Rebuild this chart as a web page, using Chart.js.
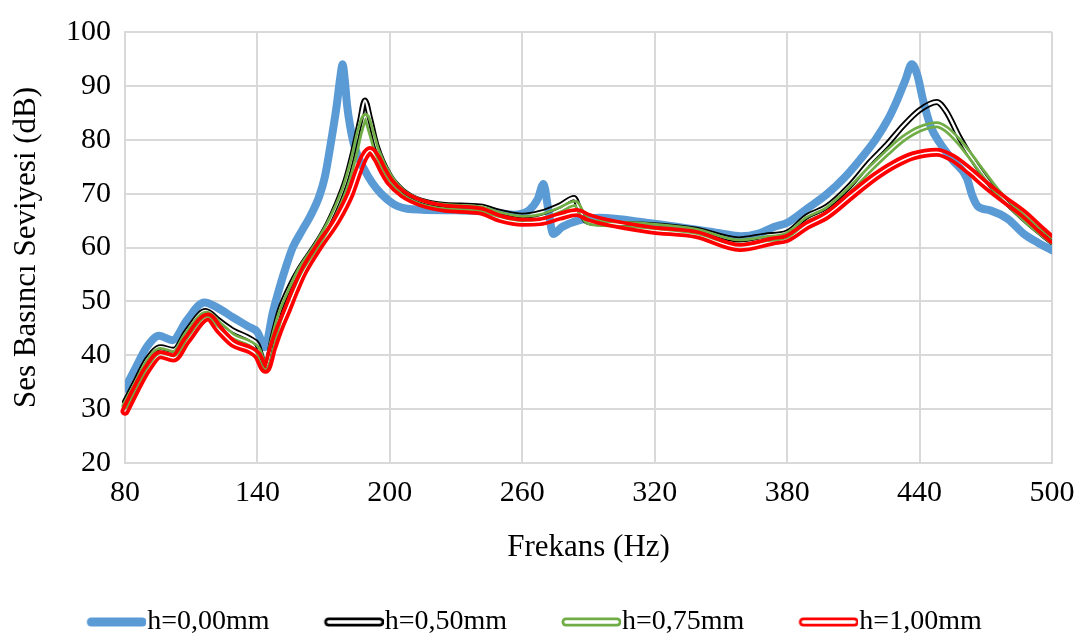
<!DOCTYPE html>
<html>
<head>
<meta charset="utf-8">
<script src="https://cdn.jsdelivr.net/npm/chart.js@4/dist/chart.umd.min.js"></script>
<style>
html,body{margin:0;padding:0;background:#fff;}
#wrap{width:1088px;height:644px;}
</style>
</head>
<body>
<div id="wrap"><canvas id="c" width="1088" height="644"></canvas></div>
<script>
// ---- data ----
const seriesNames = ['h=0,00mm', 'h=0,50mm', 'h=0,75mm', 'h=1,00mm'];
const xTickValues = [80, 140, 200, 260, 320, 380, 440, 500];
const yTickValues = [20, 30, 40, 50, 60, 70, 80, 90, 100];

const freq000 = [80,85,90,95.5,101.5,108,116,122,129,136,140,143.4,147,150,153,156,160,163.8,168,170.5,173.5,175.8,177.5,178.6,179.6,180.6,182,183.5,185.5,188,192,196,202,210,230,245,256,263,267,269.6,271.8,274,278,286,295,318,339,350,359,367,374,380,389,398,406,413,420,426,430,433.5,436.5,439,441.5,445,449,455,461.4,464,466.5,472,480,487,494,500];
const spl000  = [33.8,37.8,41.6,43.6,42.8,46.5,49.8,48.8,47,45.3,44.3,41.5,48,52.5,56.5,60,63,65.7,69.5,73,80,86,91.5,94,91,86.5,82.5,79.5,77,74.8,72,70,68,67.1,66.9,66.7,66.1,66.9,69,71.8,67,62.5,63.8,65.1,65.5,64.5,63.3,62.6,62.1,62.6,63.8,64.6,67.2,69.9,73,76.3,80,84,87.5,91,94,92,87.5,82.5,79.5,76.2,72.9,69.5,67.6,66.9,65.3,62.6,60.8,59.5];

const freq050 = [80,85,90,96,102,108,116.5,123,129,136.6,140,143.7,147,150,155,159,167,172,176,180,183.4,186.5,188.7,191,194,200,206,214,225,241,250,260,268,277,283.5,286,289,295,318,339,358,370,380,389,398,408,417.6,425,432.6,440,447.8,452,458,463,468.8,475,482,490,500];
const spl050  = [31.4,35.3,39.2,41.5,41,44.5,48.2,46.3,44.6,43.1,42,38,43.5,48.2,53,56,60.9,64.5,68.1,72.5,77.8,83.5,87.3,84,78.9,73.3,70.5,68.7,67.9,67.6,66.6,65.9,66.4,67.8,69.2,67,64.9,64.5,64.2,63.3,61.5,62.2,62.8,65.8,67.6,71.3,75.9,79,82.6,85.5,87,85.3,80.5,77,73.5,70.2,67.3,64.3,61];

const freq075 = [80,85,90,96,102,108,117,123,129,136.6,140,143.7,147,150,155,159,167,172,176,180,183.5,186.5,189,191.5,194,200,206,214,225,241,250,260,268,277,284,287,290,295,318,339,358,370,380,389,398,408,417.6,425,432.6,440,447.8,452,458,463,468.8,475,482,490,500];
const spl075  = [30.6,34.4,38.4,40.9,40.3,43.8,47.6,45.6,43.5,42.2,41.1,37.8,42.5,47,52,55.5,60.5,64,67.4,71.5,76.5,81.8,84.3,81.5,78,73,70.2,68.5,67.6,67.2,66.1,65.4,65.7,67,68.2,66.3,64.8,64.5,64,63,61,61.6,62.3,65.2,67,70.6,74.6,77.5,80.2,82,82.8,82,79.6,77,73.8,70.5,67.5,64.5,61.2];

const freq100 = [80,84.5,90,96,102,108,117.6,123,129,136.6,140,143.7,147,150,153.3,157,160.7,168,176,182,186,188.5,191,194,197,200,206,214,225,241,250,260,268,277,284.6,290,295,318,339,358.6,373.6,380,389,398,410,420,428,437,447.8,455,463,470,478,487,495,500];
const spl100  = [29.6,33.3,37.4,40.1,39.5,42.8,47.1,44.6,42.2,41,40,37.4,41.5,45,48.2,52,55.4,60.3,65.1,69.9,74.5,76.9,78,76.6,74.2,72.2,69.9,68.3,67.3,66.8,65.4,64.7,64.8,65.8,66.5,65.6,65,63.3,62.4,60,61.2,61.7,64.1,66,70,73.2,75.3,77,77.7,76.6,74.1,71.6,69,66.3,63.3,61.5];

const seriesColors = ['#5B9BD5', '#000000', '#70AD47', '#FF0000'];

// ---- helpers ----
function pts(fx, fy) { return fx.map((f, i) => ({x: f, y: fy[i]})); }

// legend icon: transparent lead-in, then the line sample right before the text
function legendIcon(color, width, gap) {
  const c = document.createElement('canvas');
  c.width = 89; c.height = 14;
  const g = c.getContext('2d');
  g.lineCap = 'round';
  g.strokeStyle = color; g.lineWidth = width;
  g.beginPath(); g.moveTo(34, 7); g.lineTo(85, 7); g.stroke();
  if (gap) {
    g.globalCompositeOperation = 'destination-out';
    g.lineWidth = gap;
    g.beginPath(); g.moveTo(34, 7); g.lineTo(85, 7); g.stroke();
  }
  return c;
}
const legendIcons = [
  legendIcon(seriesColors[0], 9, 0),
  legendIcon(seriesColors[1], 9, 3.5),
  legendIcon(seriesColors[2], 9, 3.5),
  legendIcon(seriesColors[3], 9, 3.5)
];

// Draw "double" (compound) lines: outer stroke with a transparent centre gap
const doubleLinePlugin = {
  id: 'doubleLine',
  beforeLayout(chart) {
    const lg = chart.legend;
    if (lg && !lg.__fixedHeight) {
      const f = lg.fit;
      lg.fit = function () { f.call(this); this.height = 74; };
      lg.__fixedHeight = true;
    }
  },
  beforeDatasetDraw(chart, args) {
    const ds = chart.data.datasets[args.index];
    if (!ds.gapWidth) return;
    const line = args.meta.dataset;
    if (line.updateControlPoints) line.updateControlPoints(chart.chartArea, 'x');
    if (!this._off) this._off = document.createElement('canvas');
    const off = this._off;
    off.width = chart.canvas.width; off.height = chart.canvas.height;
    const o = off.getContext('2d');
    o.clearRect(0, 0, off.width, off.height);
    o.save();
    const a = chart.chartArea;
    o.beginPath(); o.rect(a.left - 6, a.top - 6, a.right - a.left + 6, a.bottom - a.top + 12); o.clip();
    o.lineJoin = 'round'; o.lineCap = 'round';
    o.beginPath();
    line.path(o);
    o.strokeStyle = ds.borderColor; o.lineWidth = ds.borderWidth; o.stroke();
    o.globalCompositeOperation = 'destination-out';
    o.lineWidth = ds.gapWidth; o.stroke();
    o.restore();
    chart.ctx.save();
    chart.ctx.setTransform(1, 0, 0, 1, 0, 0);
    chart.ctx.drawImage(off, 0, 0);
    chart.ctx.restore();
    return false;
  }
};

Chart.defaults.font.family = "'Liberation Serif','Times New Roman',serif";
Chart.defaults.color = '#000';

const common = {pointRadius: 0, pointHoverRadius: 0, fill: false, cubicInterpolationMode: 'monotone',
  borderCapStyle: 'round', borderJoinStyle: 'round'};

new Chart(document.getElementById('c'), {
  type: 'line',
  data: {
    datasets: [
      Object.assign({label: seriesNames[0], data: pts(freq000, spl000), borderColor: seriesColors[0], borderWidth: 8, order: 4}, common),
      Object.assign({label: seriesNames[1], data: pts(freq050, spl050), borderColor: seriesColors[1], borderWidth: 6, gapWidth: 2.4, order: 3}, common),
      Object.assign({label: seriesNames[2], data: pts(freq075, spl075), borderColor: seriesColors[2], borderWidth: 7, gapWidth: 1.5, order: 2}, common),
      Object.assign({label: seriesNames[3], data: pts(freq100, spl100), borderColor: seriesColors[3], borderWidth: 9, gapWidth: 1.5, order: 1}, common)
    ]
  },
  plugins: [doubleLinePlugin],
  options: {
    responsive: false,
    animation: false,
    events: [],
    layout: {padding: {left: 0, right: 36, top: 20, bottom: 0}},
    scales: {
      x: {
        type: 'linear', min: 80, max: 500,
        afterBuildTicks(s) { s.ticks = xTickValues.map(v => ({value: v})); },
        afterFit(s) { s.height = 107; },
        ticks: {font: {size: 30}, padding: 12, color: '#000'},
        grid: {color: '#d9d9d9', lineWidth: 2, drawTicks: false},
        border: {display: true, color: '#d9d9d9', width: 2},
        title: {display: true, text: 'Frekans (Hz)', font: {size: 31}, color: '#000', padding: {top: 0, bottom: 4}}
      },
      y: {
        type: 'linear', min: 20, max: 100,
        afterBuildTicks(s) { s.ticks = yTickValues.map(v => ({value: v})); },
        afterFit(s) { s.width = 125; },
        ticks: {font: {size: 30}, padding: 14, color: '#000'},
        grid: {color: '#d9d9d9', lineWidth: 2, drawTicks: false},
        border: {display: true, color: '#d9d9d9', width: 2},
        title: {display: true, text: 'Ses Basıncı Seviyesi (dB)', font: {size: 31}, color: '#000', padding: {top: 8, bottom: 0}}
      }
    },
    plugins: {
      tooltip: {enabled: false},
      legend: {
        position: 'bottom',
        labels: {
          usePointStyle: true,
          pointStyleWidth: 63,
          padding: 38,
          font: {size: 28},
          color: '#000',
          generateLabels(chart) {
            const items = Chart.defaults.plugins.legend.labels.generateLabels(chart);
            items.forEach(it => { it.pointStyle = legendIcons[it.datasetIndex]; });
            return items;
          },
          sort: (a, b) => a.datasetIndex - b.datasetIndex
        }
      }
    }
  }
});
</script>
</body>
</html>
